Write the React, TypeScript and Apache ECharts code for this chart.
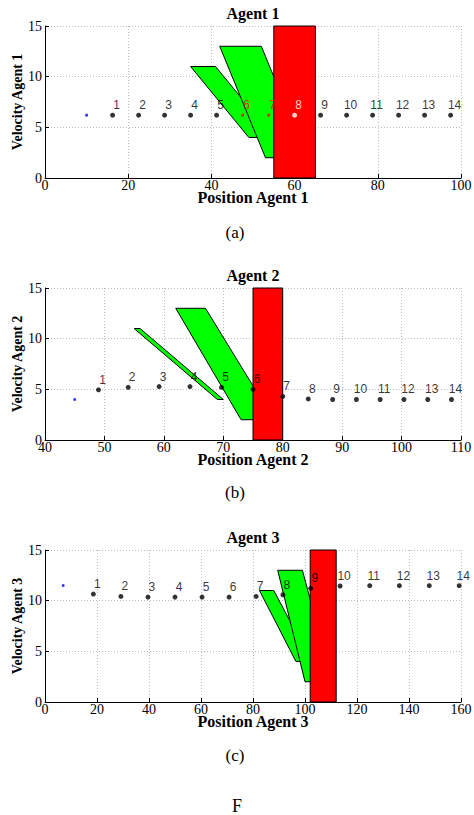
import React, { useEffect, useRef } from "react";
import * as echarts from "echarts";

// ---- Data ----
const titles = ["Agent 1", "Agent 2", "Agent 3"];
const xNames = ["Position Agent 1", "Position Agent 2", "Position Agent 3"];
const yNames = ["Velocity Agent 1", "Velocity Agent 2", "Velocity Agent 3"];
const captions = ["(a)", "(b)", "(c)"];
const xMins = [0, 40, 0];
const xMaxs = [100, 110, 160];
const xIntervals = [20, 10, 20];

// trajectory points: index 0 = start (blue), 1..14 = steps
const agent1Pos = [10, 16.25, 22.5, 28.75, 35, 41.25, 47.5, 53.75, 60, 66.25, 72.5, 78.75, 85, 91.25, 97.5];
const agent1Vel = [6.2, 6.2, 6.2, 6.2, 6.2, 6.2, 6.2, 6.2, 6.2, 6.2, 6.2, 6.2, 6.2, 6.2, 6.2];
const agent1Colors = ["blue", "black", "black", "black", "black", "black", "red", "red", "white", "black", "black", "black", "black", "black", "black"];

const agent2Pos = [45, 49, 54, 59.2, 64.4, 69.7, 75, 80, 84.3, 88.4, 92.4, 96.4, 100.4, 104.4, 108.4];
const agent2Vel = [4.0, 4.95, 5.2, 5.27, 5.27, 5.2, 5.0, 4.3, 4.05, 4.0, 4.0, 4.0, 4.0, 4.0, 4.0];
const agent2Colors = ["blue", "black", "black", "black", "black", "black", "black", "black", "black", "black", "black", "black", "black", "black", "black"];

const agent3Pos = [7, 18.6, 29.2, 39.6, 50, 60.4, 70.8, 81.2, 91.5, 102.2, 113.5, 124.9, 136.3, 147.8, 159.3];
const agent3Vel = [11.5, 10.65, 10.42, 10.35, 10.35, 10.35, 10.35, 10.42, 10.58, 11.22, 11.45, 11.48, 11.48, 11.48, 11.48];
const agent3Colors = ["blue", "black", "black", "black", "black", "black", "black", "black", "black", "black", "black", "black", "black", "black", "black"];

// green velocity-obstacle polygons: [x1,y1,x2,y2,x3,y3,x4,y4]
const agent1Obstacles = [
  [35, 11, 41, 11, 55, 4, 49, 4],
  [42, 13, 52, 13, 63, 2, 53, 2],
];
const agent2Obstacles = [
  [55, 11, 56, 11, 70, 4, 69, 4],
  [62, 13, 67, 13, 78.5, 2, 73, 2],
];
const agent3Obstacles = [
  [82.5, 11, 88, 11, 102.5, 4, 96.5, 4],
  [89.5, 13, 99, 13, 110.5, 2, 100, 2],
];

// red forbidden zones: [xStart, xEnd]
const agent1Zone = [55, 65];
const agent2Zone = [75, 80];
const agent3Zone = [102, 112];
const yMin = 0;
const yMax = 15;

const positions = [agent1Pos, agent2Pos, agent3Pos];
const velocities = [agent1Vel, agent2Vel, agent3Vel];
const colorsList = [agent1Colors, agent2Colors, agent3Colors];
const obstacles = [agent1Obstacles, agent2Obstacles, agent3Obstacles];
const zones = [agent1Zone, agent2Zone, agent3Zone];

// ---- Layout ----
const gridTops = [26, 288, 550];
const titleYs = [13, 275, 537];
const captionYs = [232, 492, 755];
const GRID_LEFT = 45;
const GRID_W = 416;
const GRID_H = 152;
const SERIF = "'Liberation Serif', 'Times New Roman', serif";
const SANS = "'Liberation Sans', Arial, sans-serif";

function polyRender(params: any, api: any) {
  const pts = [0, 1, 2, 3].map((i) => api.coord([api.value(2 * i), api.value(2 * i + 1)]));
  return {
    type: "polygon",
    shape: { points: pts },
    style: { fill: api.visual("color"), stroke: "#000", lineWidth: 1 },
  };
}

export default function App() {
  const ref = useRef<HTMLDivElement>(null);
  useEffect(() => {
    if (!ref.current) return;
    const chart = echarts.init(ref.current, undefined, { renderer: "svg" });
    const grids: any[] = [];
    const xAxes: any[] = [];
    const yAxes: any[] = [];
    const series: any[] = [];
    const graphics: any[] = [];
    for (let k = 0; k < 3; k++) {
      grids.push({ left: GRID_LEFT, top: gridTops[k], width: GRID_W, height: GRID_H, containLabel: false, outerBoundsMode: "none" });
      const splitLine = { show: true, lineStyle: { color: "#bdbdbd", type: [1, 2], width: 1 } };
      xAxes.push({
        gridIndex: k,
        type: "value",
        min: xMins[k],
        max: xMaxs[k],
        interval: xIntervals[k],
        name: xNames[k],
        nameLocation: "middle",
        nameGap: 11,
        nameMoveOverlap: false,
        nameTextStyle: { fontFamily: SERIF, fontWeight: "bold", fontSize: 16, color: "#000" },
        axisLine: { show: true, onZero: false, lineStyle: { color: "#000", width: 1 } },
        axisTick: { show: true, inside: true, length: 4, lineStyle: { color: "#000" } },
        axisLabel: { fontFamily: SERIF, fontSize: 14, color: "#000", margin: 0 },
        splitLine,
      });
      yAxes.push({
        gridIndex: k,
        type: "value",
        min: yMin,
        max: yMax,
        interval: 5,
        name: yNames[k],
        nameLocation: "middle",
        nameGap: 21,
        nameRotate: 90,
        nameMoveOverlap: false,
        nameTextStyle: { fontFamily: SERIF, fontWeight: "bold", fontSize: 14, color: "#000" },
        axisLine: { show: true, onZero: false, lineStyle: { color: "#000", width: 1 } },
        axisTick: { show: true, inside: true, length: 4, lineStyle: { color: "#000" } },
        axisLabel: { fontFamily: SERIF, fontSize: 14, color: "#000", margin: 3 },
        splitLine,
      });
      series.push({
        type: "custom",
        xAxisIndex: k,
        yAxisIndex: k,
        renderItem: polyRender,
        itemStyle: { color: "#00ff00" },
        encode: { x: [0, 2, 4, 6], y: [1, 3, 5, 7] },
        data: obstacles[k],
        z: 2,
        silent: true,
      });
      const [z0, z1] = zones[k];
      series.push({
        type: "custom",
        xAxisIndex: k,
        yAxisIndex: k,
        renderItem: polyRender,
        itemStyle: { color: "#ff0000" },
        encode: { x: [0, 2, 4, 6], y: [1, 3, 5, 7] },
        data: [[z0, yMin, z1, yMin, z1, yMax, z0, yMax]],
        z: 3,
        silent: true,
      });
      const pos = positions[k];
      const vel = velocities[k];
      const cols = colorsList[k];
      series.push({
        type: "scatter",
        xAxisIndex: k,
        yAxisIndex: k,
        z: 4,
        silent: true,
        data: pos.map((p, i) => {
          const c = cols[i];
          const big = c === "black" || c === "white";
          return {
            value: [p, vel[i]],
            symbolSize: big ? 5 : 3,
            itemStyle: { color: c },
            label: {
              show: i > 0,
              formatter: String(i),
              position: "inside",
              offset: [4, -10],
              color: c,
              textBorderWidth: 0,
              textBorderColor: "transparent",
              fontFamily: SANS,
              fontSize: 12,
            },
          };
        }),
      });
      graphics.push({
        type: "text",
        x: GRID_LEFT + GRID_W / 2,
        y: titleYs[k],
        style: { text: titles[k], fontFamily: SERIF, fontWeight: "bold", fontSize: 16, fill: "#000", textAlign: "center", textVerticalAlign: "middle" },
      });
      graphics.push({
        type: "text",
        x: 235,
        y: captionYs[k],
        style: { text: captions[k], fontFamily: SERIF, fontSize: 17, fill: "#000", textAlign: "center", textVerticalAlign: "middle" },
      });
    }
    graphics.push({
      type: "text",
      x: 237,
      y: 806,
      style: { text: "F", fontFamily: SERIF, fontSize: 18, fill: "#000", textAlign: "center", textVerticalAlign: "middle" },
    });
    chart.setOption({
      animation: false,
      backgroundColor: "#fff",
      grid: grids,
      xAxis: xAxes,
      yAxis: yAxes,
      series,
      graphic: graphics,
    });
    return () => chart.dispose();
  }, []);
  return <div ref={ref} style={{ position: "fixed", left: 0, top: 0, width: 474, height: 815, background: "#fff" }} />;
}
